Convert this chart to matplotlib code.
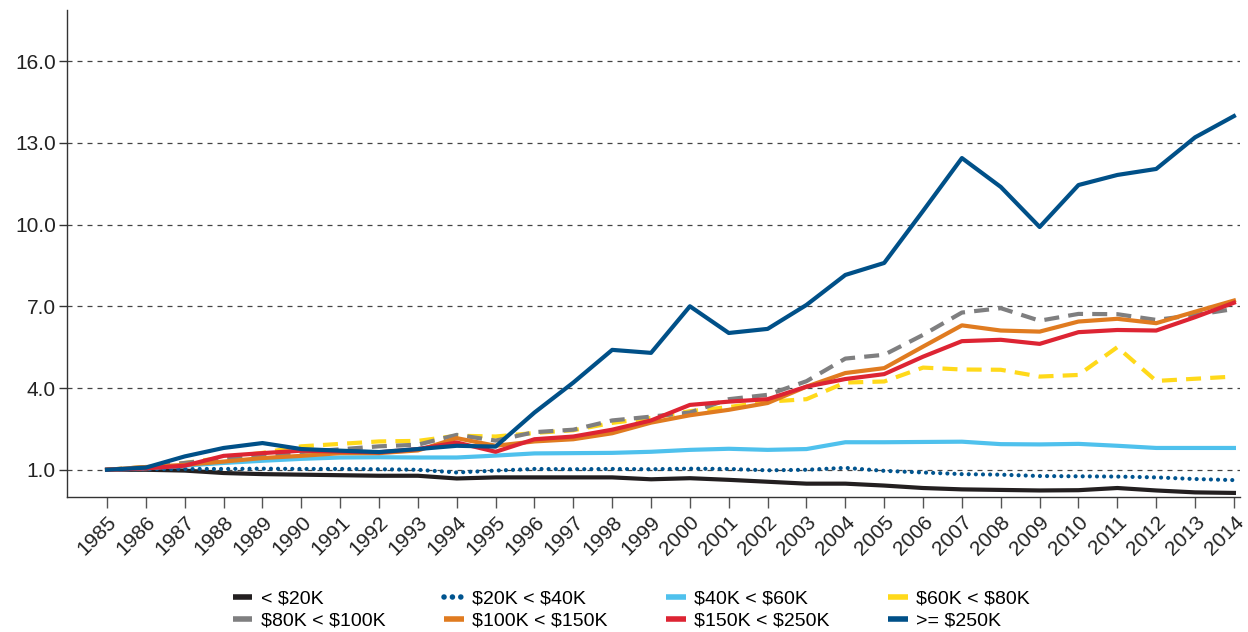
import matplotlib
matplotlib.use("Agg")
import matplotlib.pyplot as plt
from matplotlib.lines import Line2D

years = list(range(1985, 2015))

under_20k = [1.00, 1.00, 0.97, 0.88, 0.84, 0.82, 0.80, 0.78, 0.78, 0.68, 0.72, 0.72, 0.72, 0.72, 0.65, 0.69, 0.63, 0.56, 0.49, 0.49, 0.42, 0.33, 0.28, 0.26, 0.24, 0.25, 0.33, 0.24, 0.17, 0.15]
k20_40 = [1.00, 1.02, 1.03, 1.03, 1.04, 1.03, 1.03, 1.02, 1.00, 0.90, 0.97, 1.03, 1.02, 1.03, 1.02, 1.04, 1.03, 0.98, 1.00, 1.07, 0.96, 0.90, 0.84, 0.82, 0.77, 0.76, 0.75, 0.72, 0.66, 0.62]
k40_60 = [1.00, 1.05, 1.15, 1.25, 1.33, 1.40, 1.45, 1.46, 1.45, 1.45, 1.52, 1.60, 1.61, 1.62, 1.66, 1.73, 1.77, 1.73, 1.76, 2.01, 2.01, 2.02, 2.03, 1.94, 1.93, 1.95, 1.88, 1.80, 1.80, 1.80]
k60_80 = [1.00, 1.10, 1.25, 1.45, 1.62, 1.86, 1.95, 2.04, 2.06, 2.25, 2.22, 2.35, 2.45, 2.72, 2.90, 3.15, 3.30, 3.50, 3.59, 4.20, 4.24, 4.75, 4.68, 4.67, 4.42, 4.48, 5.50, 4.26, 4.34, 4.42]
k80_100 = [1.00, 1.10, 1.25, 1.40, 1.52, 1.65, 1.75, 1.86, 1.92, 2.28, 2.07, 2.38, 2.47, 2.81, 2.95, 3.10, 3.59, 3.75, 4.25, 5.08, 5.22, 5.95, 6.77, 6.93, 6.47, 6.72, 6.71, 6.50, 6.68, 6.90]
k100_150 = [1.00, 1.10, 1.18, 1.30, 1.43, 1.51, 1.61, 1.61, 1.71, 2.16, 1.88, 2.04, 2.12, 2.34, 2.73, 3.00, 3.20, 3.45, 4.05, 4.55, 4.73, 5.52, 6.30, 6.11, 6.07, 6.44, 6.54, 6.38, 6.80, 7.21]
k150_250 = [1.00, 1.05, 1.15, 1.51, 1.61, 1.70, 1.67, 1.64, 1.76, 2.00, 1.66, 2.12, 2.22, 2.47, 2.81, 3.38, 3.50, 3.59, 4.05, 4.33, 4.51, 5.15, 5.72, 5.77, 5.62, 6.05, 6.13, 6.11, 6.60, 7.13]
k250_plus = [1.00, 1.08, 1.49, 1.80, 1.98, 1.76, 1.70, 1.65, 1.76, 1.88, 1.85, 3.10, 4.20, 5.40, 5.29, 7.00, 6.02, 6.17, 7.05, 8.15, 8.59, 10.50, 12.44, 11.38, 9.91, 11.45, 11.82, 12.04, 13.20, 13.98]

y_ticks = [1.0, 4.0, 7.0, 10.0, 13.0, 16.0]
labels = ["< $20K", "$20K < $40K", "$40K < $60K", "$60K < $80K",
          "$80K < $100K", "$100K < $150K", "$150K < $250K", ">= $250K"]

plt.rcParams['font.family'] = ['Liberation Sans', 'DejaVu Sans']
plt.rcParams['text.parse_math'] = False

fig = plt.figure(figsize=(12.48, 6.32), dpi=100)
ax = fig.add_axes([0.0537, 0.2136, 0.94, 0.7704])

lw = 3.0
series = [
    (under_20k, dict(color="#231f20", ls="-")),
    (k20_40, dict(color="#00548f", ls=(0, (0.01, 1.7)), dash_capstyle="round", solid_capstyle="round")),
    (k40_60, dict(color="#4fc1ed", ls="-")),
    (k60_80, dict(color="#ffd91a", ls=(0, (3.6, 2.2)))),
    (k80_100, dict(color="#7f7f80", ls=(0, (3.6, 2.2)))),
    (k100_150, dict(color="#e07b20", ls="-")),
    (k150_250, dict(color="#dd2433", ls="-")),
    (k250_plus, dict(color="#005088", ls="-")),
]
for (vals, st), lab in zip(series, labels):
    ax.plot(years, vals, lw=lw, label=lab, **st)

ax.set_xlim(1983.97, 2014.16)
ax.set_ylim(0, 17.87)
ax.set_yticks(y_ticks)
ax.set_yticklabels([f"{v:.1f}" for v in y_ticks], fontsize=15, color='#222222')
ax.set_xticks(years)
ax.set_xticklabels([str(y) for y in years], rotation=45, ha='right',
                   rotation_mode='anchor', fontsize=15, color='#222222')
ax.tick_params(axis='y', length=6, width=1, color='#333333', pad=2)
ax.tick_params(axis='x', length=8, width=1, color='#555555', pad=3)
ax.yaxis.grid(True, ls=(0, (4, 4)), color='#444444', lw=0.9)
ax.set_axisbelow(True)
for s in ['top', 'right']:
    ax.spines[s].set_visible(False)
for s in ['left', 'bottom']:
    ax.spines[s].set_color('#333333')
    ax.spines[s].set_linewidth(1)

leg_handles = []
for (vals, st), lab in zip(series, labels):
    if lab == "$20K < $40K":
        h = Line2D([0], [0], color=st["color"], lw=4, ls=(0, (0.01, 1.5)),
                   dash_capstyle="round")
    else:
        h = Line2D([0], [0], color=st["color"], lw=4, ls="-", solid_capstyle="butt")
    leg_handles.append(h)
order = [0, 4, 1, 5, 2, 6, 3, 7]
fig.legend([leg_handles[i] for i in order], [labels[i] for i in order],
           loc='center', bbox_to_anchor=(0.506, 0.035), ncol=4, frameon=False,
           fontsize=14, handlelength=1.0, handletextpad=0.45, columnspacing=3.0,
           labelspacing=0.2, borderpad=0.2)

fig.savefig("out.png", dpi=100)
